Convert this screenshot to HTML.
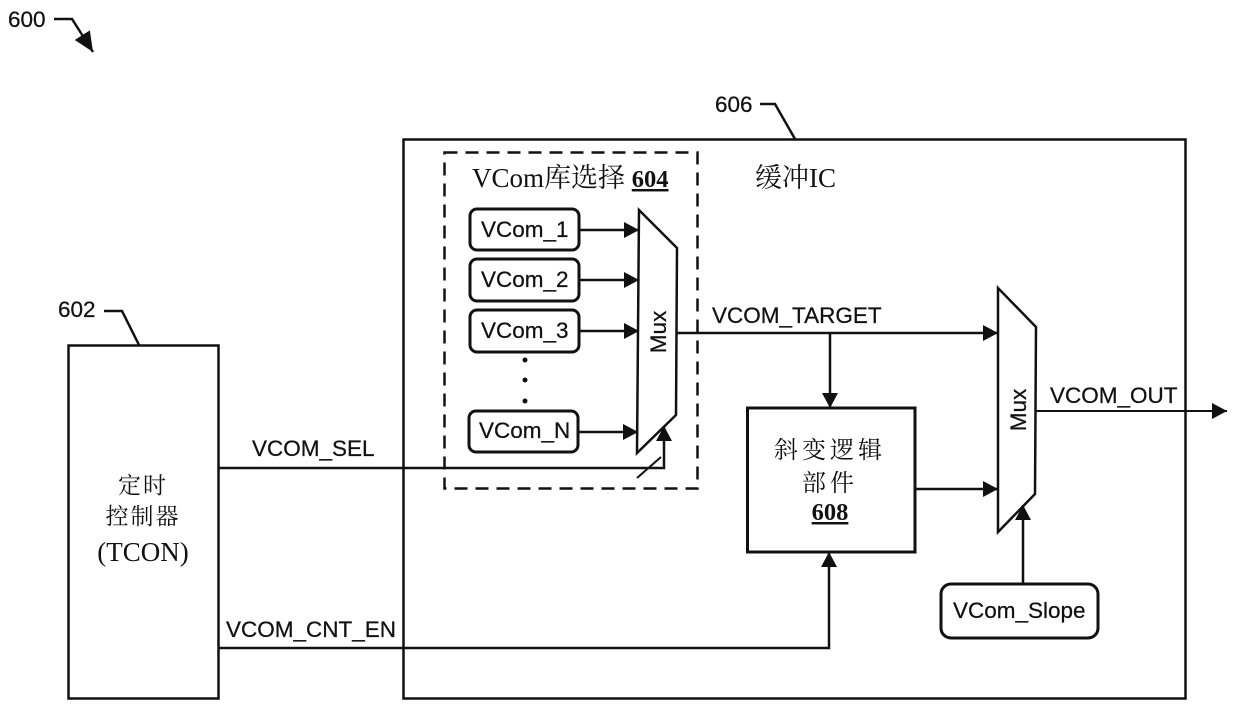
<!DOCTYPE html>
<html lang="zh">
<head>
<meta charset="utf-8">
<title>Diagram 600</title>
<style>
html,body{margin:0;padding:0;background:#fff}
svg{display:block}
.s{font-family:"Liberation Sans",sans-serif;font-size:22.5px;fill:#111;stroke:#111;stroke-width:.25}
.z{font-family:"Liberation Serif","Noto Serif CJK SC",serif;font-size:27px;fill:#111}
.b{font-family:"Liberation Serif",serif;font-size:24.5px;font-weight:bold;fill:#111;text-decoration:underline}
</style>
</head>
<body>
<svg width="1240" height="715" viewBox="0 0 1240 715" xmlns="http://www.w3.org/2000/svg">
<defs>
<marker id="a" viewBox="0 0 15 16" refX="15" refY="8" markerWidth="15" markerHeight="16" markerUnits="userSpaceOnUse" orient="auto"><path d="M0 0L15 8L0 16z" fill="#111"/></marker>
<marker id="c" viewBox="0 0 20 18" refX="20" refY="9" markerWidth="20" markerHeight="18" markerUnits="userSpaceOnUse" orient="auto"><path d="M0 0L20 9L0 18z" fill="#111"/></marker>
</defs>
<rect width="1240" height="715" fill="#fff"/>
<g fill="none" stroke="#111" stroke-width="2.5">
<!-- containers -->
<rect x="403.5" y="139.5" width="782" height="559"/>
<rect x="68.5" y="345.5" width="150" height="353"/>
<rect x="444.5" y="152.5" width="253" height="336" stroke-dasharray="13 8"/>
<rect x="747.5" y="408" width="167.500" height="144" stroke-width="3"/>
<!-- source boxes -->
<rect x="470" y="209" width="109" height="41" rx="7" stroke-width="3"/>
<rect x="470" y="259" width="109" height="42" rx="7" stroke-width="3"/>
<rect x="470" y="310" width="109" height="42" rx="7" stroke-width="3"/>
<rect x="469" y="411" width="109" height="41" rx="7" stroke-width="3"/>
<rect x="941" y="584" width="157" height="54" rx="10" stroke-width="3"/>
<!-- muxes -->
<path d="M639 210L677 248L676 415L637 453Z" fill="#fff"/>
<path d="M998 288L1036 327L1035 494L998 532Z" fill="#fff"/>
<!-- leaders -->
<path d="M54 19H72L93 52" marker-end="url(#c)" stroke-width="2.5"/>
<path d="M760 104H775L795 139"/>
<path d="M104 311H122L139 345"/>
<!-- connectors -->
<path d="M579 230H639" marker-end="url(#a)"/>
<path d="M579 280H639" marker-end="url(#a)"/>
<path d="M579 331H639" marker-end="url(#a)"/>
<path d="M578 432H638" marker-end="url(#a)"/>
<path d="M218 468H664V426" marker-end="url(#a)"/>
<path d="M637 478L661 457" stroke-width="2"/>
<path d="M677 333H998" marker-end="url(#a)"/>
<path d="M830 333V408" marker-end="url(#a)"/>
<path d="M915 489H998" marker-end="url(#a)"/>
<path d="M1023 584V505" marker-end="url(#a)"/>
<path d="M1036 411H1227" stroke-width="2" marker-end="url(#a)"/>
<path d="M218 648H829V552" marker-end="url(#a)"/>
</g>
<g fill="#111">
<circle cx="525" cy="360" r="2.500"/>
<circle cx="525" cy="380" r="2.500"/>
<circle cx="525" cy="401" r="2.500"/>
</g>
<!-- labels -->
<text class="s" x="8" y="27">600</text>
<text class="s" x="715" y="112">606</text>
<text class="s" x="58" y="317">602</text>
<text class="z" x="472" y="187">VCom库选择 <tspan class="b">604</tspan></text>
<text class="z" x="755" y="187">缓冲IC</text>
<text class="s" x="481" y="237">VCom_1</text>
<text class="s" x="481" y="287">VCom_2</text>
<text class="s" x="481" y="338">VCom_3</text>
<text class="s" x="479" y="438">VCom_N</text>
<text class="s" x="953" y="618">VCom_Slope</text>
<text class="s" x="712" y="323">VCOM_TARGET</text>
<text class="s" x="1050" y="403">VCOM_OUT</text>
<text class="s" x="252" y="456">VCOM_SEL</text>
<text class="s" x="226" y="637">VCOM_CNT_EN</text>
<text class="s" text-anchor="middle" transform="translate(666,332) rotate(-90)">Mux</text>
<text class="s" text-anchor="middle" transform="translate(1026,410) rotate(-90)">Mux</text>
<text class="z" x="143" y="493" text-anchor="middle" style="font-size:23px;letter-spacing:2px">定时</text>
<text class="z" x="143" y="524" text-anchor="middle" style="font-size:23px;letter-spacing:2px">控制器</text>
<text class="z" x="143" y="561" text-anchor="middle">(TCON)</text>
<text class="z" x="830" y="458" text-anchor="middle" style="font-size:24px;letter-spacing:4px">斜变逻辑</text>
<text class="z" x="830" y="491" text-anchor="middle" style="font-size:24px;letter-spacing:4px">部件</text>
<text class="b" x="830" y="520" text-anchor="middle">608</text>
</svg>
</body>
</html>
